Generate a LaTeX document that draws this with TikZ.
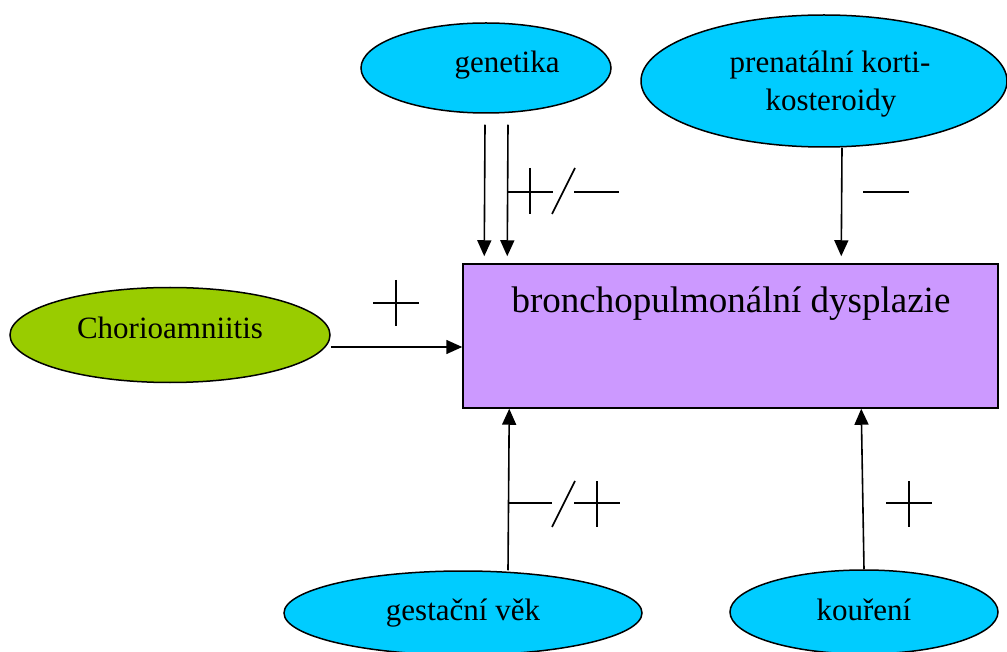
\documentclass[tikz,border=0pt]{standalone}
\usepackage{fontspec}
\setmainfont{Liberation Serif}
\usetikzlibrary{shapes.geometric,arrows.meta,calc}
\definecolor{cyanfill}{HTML}{00CCFF}
\definecolor{greenfill}{HTML}{99CC00}
\definecolor{purplefill}{HTML}{CC99FF}
\tikzset{
  oval/.style={ellipse, draw=black, line width=1.5pt, inner sep=0pt},
  lbl/.style={anchor=base, inner sep=0pt, font=\rmfamily\fontsize{31}{38}\selectfont, align=center},
  arr/.style={line width=1.6pt, -{Triangle[length=16pt,width=14pt]}},
  signline/.style={line width=1.6pt},
}
\begin{document}
\begin{tikzpicture}[x=1pt,y=-1pt]
\useasboundingbox (0,0) rectangle (1007,652);
% nodes
\node[oval, fill=cyanfill, minimum width=250pt, minimum height=90pt] (gen) at (486,68) {};
\node[oval, fill=cyanfill, minimum width=366pt, minimum height=132pt] (pre) at (824,81) {};
\node[oval, fill=greenfill, minimum width=320pt, minimum height=95pt] (cho) at (170,335) {};
\node[oval, fill=cyanfill, minimum width=358pt, minimum height=84pt] (ges) at (463,613) {};
\node[oval, fill=cyanfill, minimum width=268pt, minimum height=84pt] (kou) at (864,612) {};
\node[draw=black, line width=1.5pt, fill=purplefill, minimum width=535pt, minimum height=144pt, inner sep=0pt] (bpd) at (730.5,336) {};
% texts
\node[lbl] (genT) at (507,73) {genetika};
\node[lbl] (preT1) at (830,73) {prenatální korti-};
\node[lbl] (preT2) at (831,111) {kosteroidy};
\node[lbl] (choT) at (170,338) {Chorioamniitis};
\node[lbl] (gesT) at (463,620) {gestační věk};
\node[lbl] (kouT) at (864,620) {kouření};
\node[anchor=base, inner sep=0pt, font=\rmfamily\fontsize{37}{44}\selectfont] (bpdT) at (731,313) {bronchopulmonální dysplazie};
% connectors
\draw[arr] ($(gen.south)+(-1,11)$) -- ($(bpd.north west)+(22,-7)$);
\draw[arr] ($(gen.south)+(22,11)$) -- ($(bpd.north west)+(45,-7)$);
\draw[arr] ($(pre.south)+(18,0)$) -- ($(bpd.north west)+(379,-7)$);
\draw[arr] ($(cho.east)+(0,12)$) -- ($(bpd.west)+(0,11)$);
\draw[arr] ($(ges.north)+(45,0)$) -- ($(bpd.south west)+(47,0)$);
\draw[arr] (kou.north) -- ($(bpd.south west)+(399,0)$);
% signs
\draw[signline] (508,192) -- (553,192) (530,168) -- (530,214);
\draw[signline] (552,214) -- (575,168);
\draw[signline] (574,192) -- (619,192);
\draw[signline] (863,192) -- (909,192);
\draw[signline] (373,303) -- (419,303) (396,280) -- (396,326);
\draw[signline] (508,503) -- (552,503);
\draw[signline] (552,527) -- (575,481);
\draw[signline] (574,503) -- (620,503) (597,481) -- (597,527);
\draw[signline] (886,503) -- (932,503) (909,481) -- (909,527);
\end{tikzpicture}
\end{document}
